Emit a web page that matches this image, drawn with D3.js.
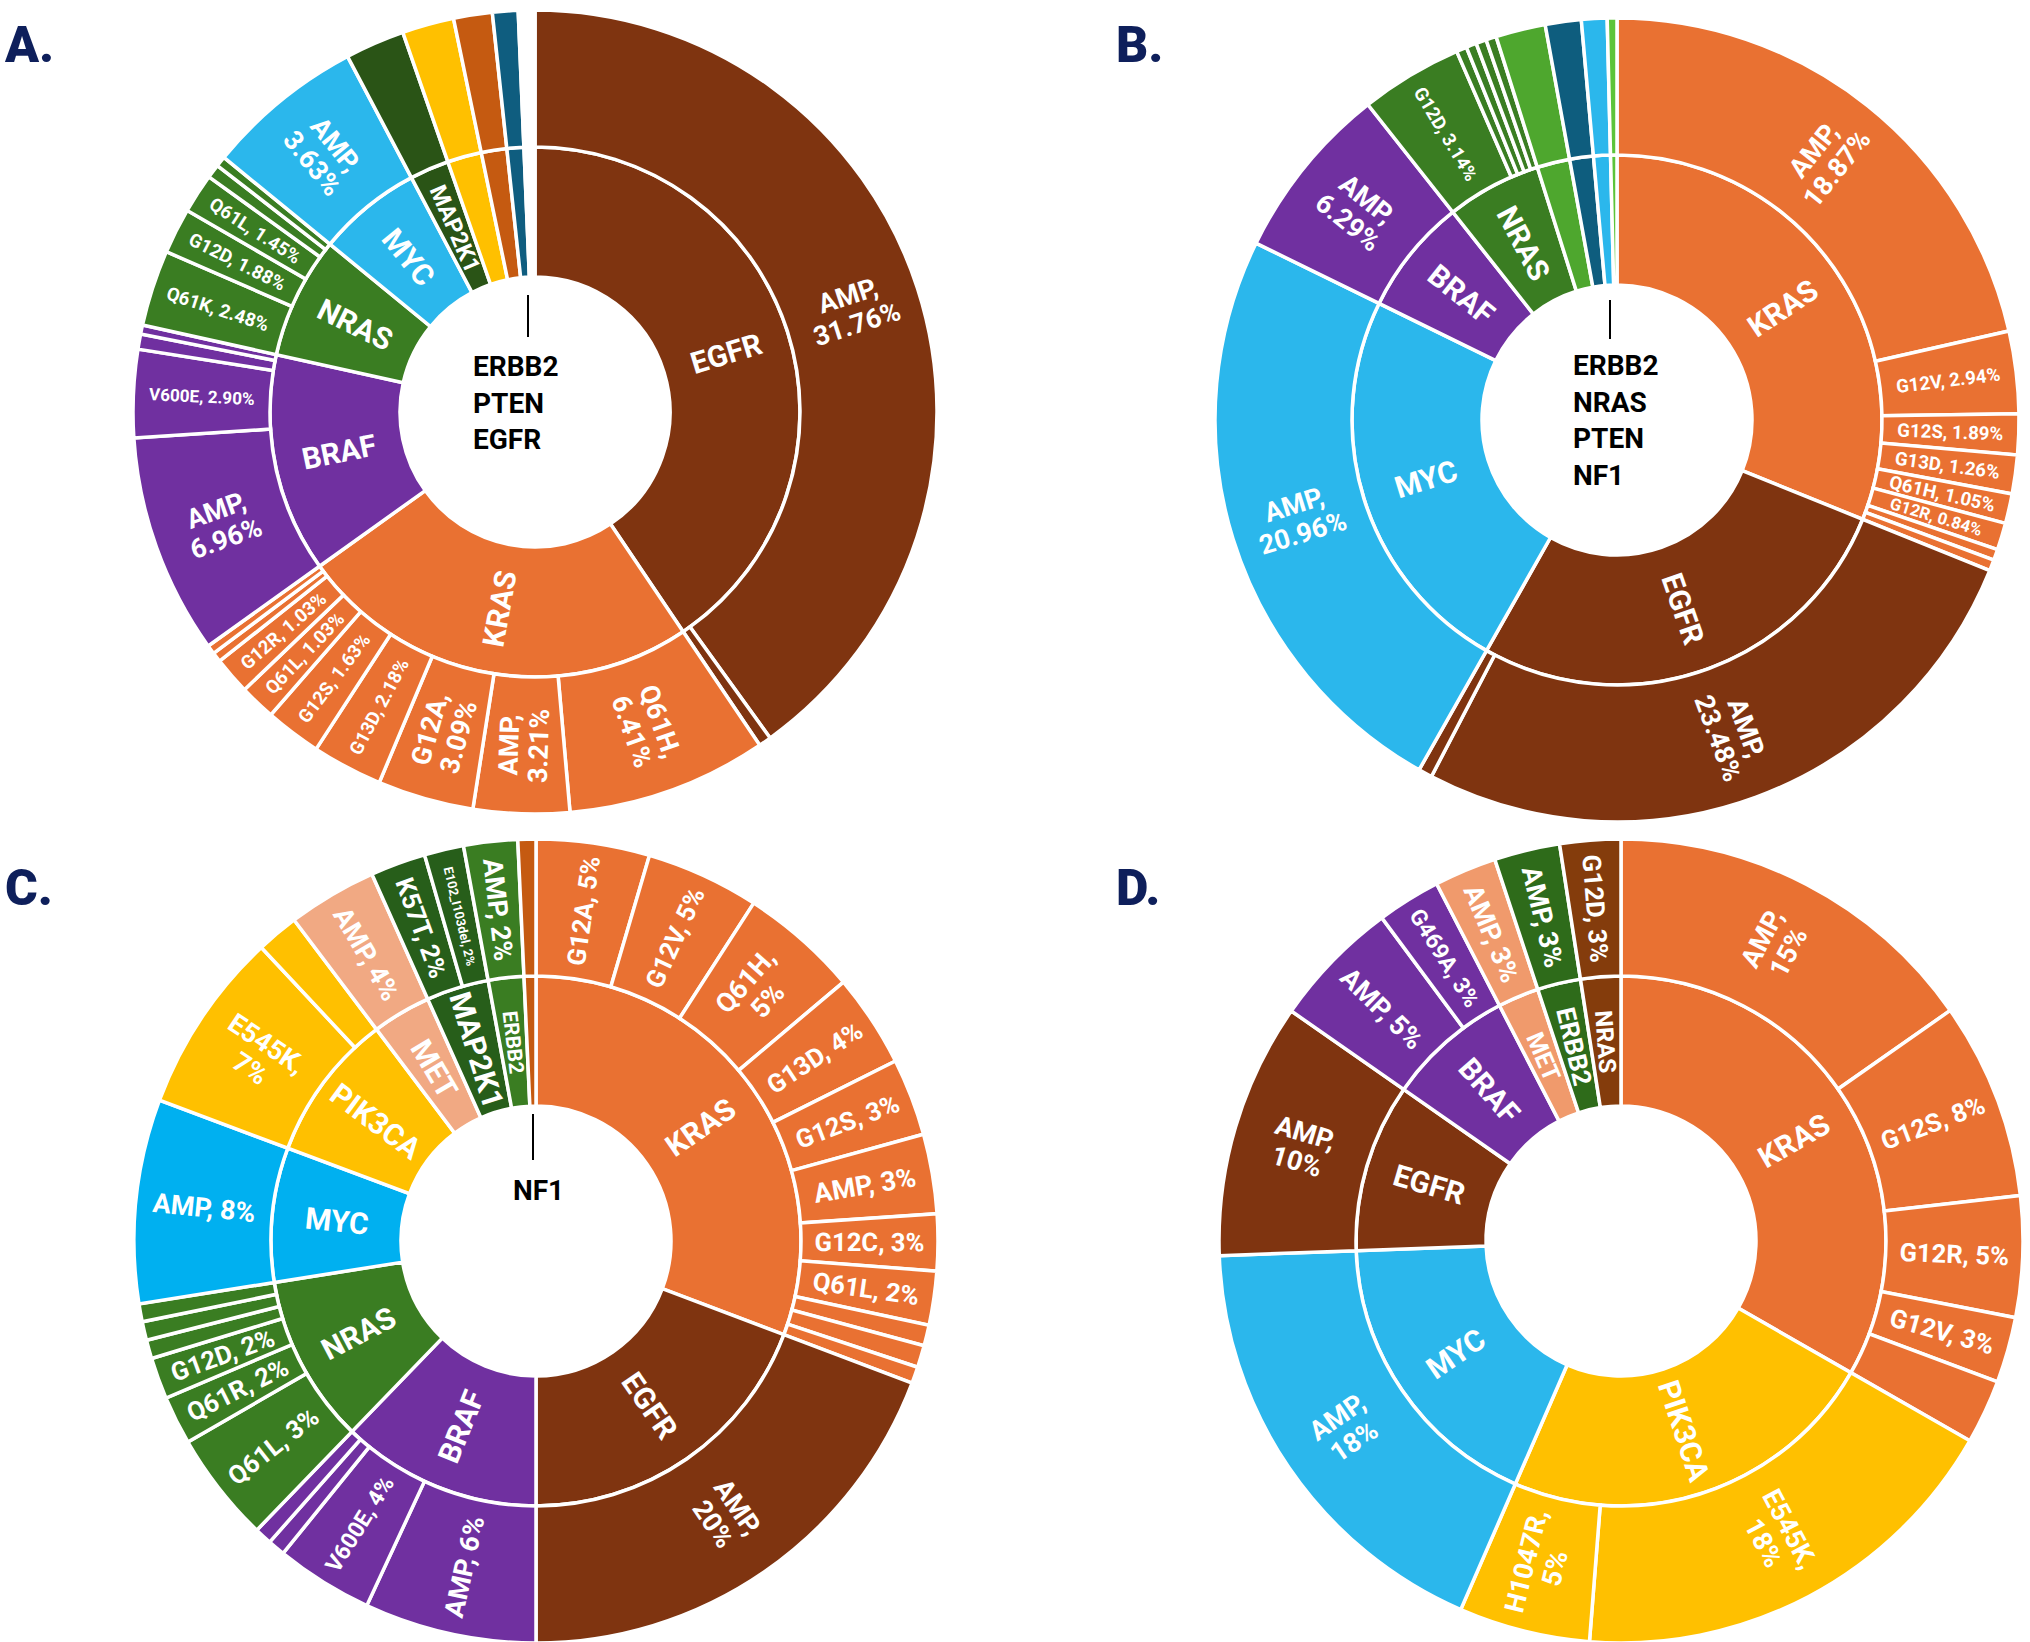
<!DOCTYPE html>
<html><head><meta charset="utf-8">
<script src="https://cdn.jsdelivr.net/npm/d3@7"></script>
<style>body{margin:0;background:#fff}</style></head>
<body><svg id="c" width="2030" height="1642"></svg>
<script>
const C_EGFR="#7f3410",C_KRAS="#e97132",C_BRAF="#7030a0",C_NRAS="#3a7d22",C_MYC="#2bb7ec",C_PIK="#ffc000";

// ---- Panel A ----
const A_genes=["EGFR","KRAS","BRAF","NRAS","MYC","MAP2K1","","","",""];
const A_colors=[C_EGFR,C_KRAS,C_BRAF,C_NRAS,C_MYC,"#2a5416",C_PIK,"#c55a11","#0f5d7f","#ffffff"];
const A_leafGene=[0,0, 1,1,1,1,1,1,1,1,1, 2,2,2,2, 3,3,3,3,3, 4,5,6,7,8,9];
const A_leafLabel=["AMP,\n31.76%","", "Q61H,\n6.41%","AMP,\n3.21%","G12A,\n3.09%","G13D, 2.18%","G12S, 1.63%","Q61L, 1.03%","G12R, 1.03%","","",
 "AMP,\n6.96%","V600E, 2.90%","","", "Q61K, 2.48%","G12D, 1.88%","Q61L, 1.45%","","", "AMP,\n3.63%","","","","",""];
const A_leafValue=[144.2,1.8, 29,13.9,13.9,10.2,8.1,5.2,5.4,1.4,1.3, 31.9,12.7,2.2,1.3, 11,6.6,5.7,2,1.5, 22.9,8.6,7.5,5.6,3.7,2.4];
const A_center=["ERBB2","PTEN","EGFR"];

// ---- Panel B ----
const B_genes=["KRAS","EGFR","MYC","BRAF","NRAS","","","",""];
const B_colors=[C_KRAS,C_EGFR,C_MYC,C_BRAF,C_NRAS,"#4ea72e","#0e5d7e",C_MYC,"#5cc43a"];
const B_leafGene=[0,0,0,0,0,0,0,0, 1,1, 2, 3, 4,4,4,4,4, 5,6,7,8];
const B_leafLabel=["AMP,\n18.87%","G12V, 2.94%","G12S, 1.89%","G13D, 1.26%","Q61H, 1.05%","G12R, 0.84%","","",
 "AMP,\n23.48%","", "AMP,\n20.96%", "AMP,\n6.29%", "G12D, 3.14%","","","","", "","","",""];
const B_leafValue=[77.2,11.9,5.9,5.6,4.3,3.9,1.6,1.6, 95.5,2.0, 86.6, 25.6, 14.8,1.5,1.5,1.5,1.5, 7.2,5.2,3.7,1.4];
const B_center=["ERBB2","NRAS","PTEN","NF1"];

// ---- Panel C ----
const C_genes=["KRAS","EGFR","BRAF","NRAS","MYC","PIK3CA","MET","MAP2K1","ERBB2",""];
const C_colors=[C_KRAS,C_EGFR,C_BRAF,C_NRAS,"#00b0f0",C_PIK,"#f1a983","#275e1a",C_NRAS,"#c55a11"];
const C_leafGene=[0,0,0,0,0,0,0,0,0,0,0, 1, 2,2,2,2, 3,3,3,3,3,3, 4, 5,5, 6, 7,7, 8, 9];
const C_leafLabel=["G12A, 5%","G12V, 5%","Q61H,\n5%","G13D, 4%","G12S, 3%","AMP, 3%","G12C, 3%","Q61L, 2%","","","",
 "AMP,\n20%", "AMP, 6%","V600E, 4%","","", "Q61L, 3%","Q61R, 2%","G12D, 2%","","","", "AMP, 8%", "E545K,\n7%","",
 "AMP, 4%", "K57T, 2%","E102_I103del, 2%", "AMP, 2%", ""];
const C_leafValue=[16.4,16.4,17.1,13.5,11.2,11.5,8.2,7.8,3,3.2,2.4, 69.3, 24.9,14.1,2.5,2.5, 16,7,6,2.7,2.7,2.6, 29.5, 26.4,6.1, 12.9, 8,5.7, 7.8, 2.6];
const C_center=["NF1"];

// ---- Panel D ----
const D_genes=["KRAS","PIK3CA","MYC","EGFR","BRAF","MET","ERBB2","NRAS"];
const D_colors=[C_KRAS,C_PIK,C_MYC,C_EGFR,C_BRAF,"#f09a6c","#2e6b1a","#843c0c"];
const D_leafGene=[0,0,0,0,0, 1,1, 2, 3, 4,4, 5, 6, 7];
const D_leafLabel=["AMP,\n15%","G12S, 8%","G12R, 5%","G12V, 3%","", "E545K,\n18%","H1047R,\n5%", "AMP,\n18%", "AMP,\n10%", "AMP, 5%","G469A, 3%", "AMP, 3%", "AMP, 3%", "G12D, 3%"];
const D_leafValue=[55,28.5,17.5,9.5,9.3, 64.7,19, 64.4, 37, 18.6,9.2, 9, 9.5, 8.8];
const D_center=[];

const panels=[
 {letter:"A.",lx:5,ly:62,cx:535,cy:412,genes:A_genes,colors:A_colors,lg:A_leafGene,ll:A_leafLabel,lv:A_leafValue,center:A_center,tx:473,ty:376,line:[528,295,337]},
 {letter:"B.",lx:1116,ly:62,cx:1617,cy:420,genes:B_genes,colors:B_colors,lg:B_leafGene,ll:B_leafLabel,lv:B_leafValue,center:B_center,tx:1573,ty:375,line:[1610,300,339]},
 {letter:"C.",lx:5,ly:905,cx:536,cy:1241,genes:C_genes,colors:C_colors,lg:C_leafGene,ll:C_leafLabel,lv:C_leafValue,center:C_center,tx:513,ty:1200,line:[533,1114,1160]},
 {letter:"D.",lx:1116,ly:905,cx:1621,cy:1241,genes:D_genes,colors:D_colors,lg:D_leafGene,ll:D_leafLabel,lv:D_leafValue,center:D_center,tx:0,ty:0,line:null}
];

const svg=d3.select("#c");
const FONT="Roboto, 'Open Sans', sans-serif";
const rScale=d3.scaleLinear().domain([1,2,3]).range([135,265,402]);

panels.forEach(p=>{
  svg.append("text").attr("x",p.lx).attr("y",p.ly).text(p.letter)
    .attr("font-family",FONT).attr("font-weight",900).attr("font-size",50).attr("fill","#0e1f5b");
  const data={children:p.genes.map((g,i)=>({name:g,color:p.colors[i],children:[]}))};
  p.lv.forEach((v,i)=>data.children[p.lg[i]].children.push({name:p.ll[i],value:v,color:p.colors[p.lg[i]]}));
  const root=d3.hierarchy(data).sum(d=>d.value||0);
  d3.partition().size([2*Math.PI,3])(root);
  const nodes=root.descendants().filter(d=>d.depth>0);
  const arc=d3.arc().startAngle(d=>d.x0).endAngle(d=>d.x1)
    .innerRadius(d=>rScale(d.y0)).outerRadius(d=>rScale(d.y1));
  const g=svg.append("g").attr("transform",`translate(${p.cx},${p.cy})`);
  g.selectAll("path").data(nodes).join("path").attr("d",arc)
    .attr("fill",d=>d.data.color).attr("stroke","#fff").attr("stroke-width",3.5);
  nodes.forEach(d=>{
    const label=d.data.name; if(!label) return;
    const lines=label.split("\n");
    const r0=rScale(d.y0),r1=rScale(d.y1),rm=(r0+r1)/2;
    const L=(r1-r0)-14, W=(d.x1-d.x0)*rm-4;
    const n=d3.max(lines,s=>s.length);
    const maxF=d.depth===1?30:27;
    const fs=Math.min(maxF,L/(0.6*n),W/(1.12*lines.length));
    if(fs<5) return;
    const a=(d.x0+d.x1)/2*180/Math.PI;
    const t=g.append("text")
      .attr("transform",`rotate(${a-90}) translate(${rm},0) rotate(${a<180?0:180})`)
      .attr("text-anchor","middle").attr("fill","#fff").attr("font-family",FONT)
      .attr("font-weight",700).attr("font-size",fs);
    lines.forEach((s,i)=>t.append("tspan").attr("x",0)
      .attr("y",(i-(lines.length-1)/2)*fs*1.1).attr("dy","0.35em").text(s));
  });
  if(p.line) svg.append("line").attr("x1",p.line[0]).attr("x2",p.line[0]).attr("y1",p.line[1]).attr("y2",p.line[2])
    .attr("stroke","#000").attr("stroke-width",2);
  p.center.forEach((s,i)=>svg.append("text").attr("x",p.tx).attr("y",p.ty+i*36.5).text(s)
    .attr("font-family",FONT).attr("font-weight",700).attr("font-size",28).attr("fill","#000"));
});
</script></body></html>
